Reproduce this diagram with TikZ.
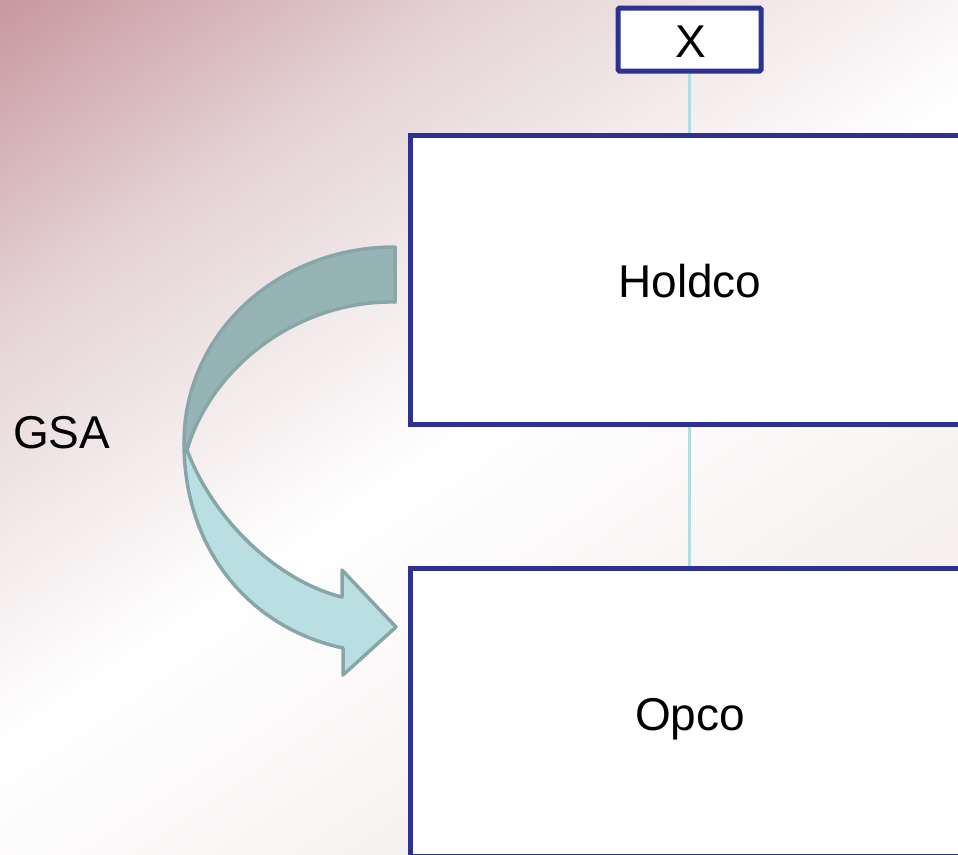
\documentclass[tikz,border=0pt]{standalone}
\usepackage{fontspec}
\setmainfont{Liberation Sans}
\definecolor{bgrose}{RGB}{200,152,157}
\definecolor{bgmid}{RGB}{229,212,214}
\definecolor{bgend}{RGB}{239,229,229}
\definecolor{navy}{RGB}{46,49,146}
\definecolor{conncol}{RGB}{178,222,224}
\definecolor{arrdark}{RGB}{150,179,181}
\definecolor{arrlight}{RGB}{186,223,226}
\definecolor{arredge}{RGB}{136,166,167}
\pgfdeclarehorizontalshading{bgshade}{100bp}{color(0bp)=(bgrose); color(25bp)=(bgrose); color(36bp)=(bgmid); color(50bp)=(white); color(75bp)=(bgend); color(100bp)=(bgend)}
\tikzset{
  entity/.style={draw=navy, line width=5pt, fill=white, inner sep=0pt},
  conn/.style={draw=conncol, line width=2.5pt},
  lbl/.style={font=\fontsize{46}{55}\selectfont, inner sep=0pt, anchor=base},
  gsaband/.style={draw=arredge, line width=3.5pt, line join=round},
}
\begin{document}
\begin{tikzpicture}[x=1pt,y=-1pt]
\useasboundingbox (0,0) rectangle (958,854);
\clip (0,0) rectangle (958,854);
\begin{scope}[transform canvas={rotate=-56}]
  \shade[shading=bgshade] (0,-830) rectangle (1243,830);
\end{scope}

% boxes
\node[entity, minimum width=143pt, minimum height=63pt, rounded corners=1.5pt] (xbox) at (689.5,39.5) {};
\node[entity, minimum width=600pt, minimum height=288.5pt] (hold) at (710,279.75) {};
\node[entity, minimum width=600pt, minimum height=288pt] (opco) at (710,712) {};

% connectors
\draw[conn] (xbox.south) -- (xbox.south |- hold.north);
\draw[conn] (xbox.south |- hold.south) -- (xbox.south |- opco.north);

% labels
\node[lbl] (xlbl) at (691,57) {X};
\node[lbl] (holdlbl) at (690,297) {Holdco};
\node[lbl] (opcolbl) at (690,730) {Opco};
\node[lbl, anchor=base west] (gsa) at (13,448) {GSA};

% curved GSA arrow
\path[gsaband, fill=arrdark]
  (184,443) .. controls (184,333) and (278,247) .. (395,247)
  -- (395,302) .. controls (300,300) and (212,365) .. (187,450) -- cycle;
\path[gsaband, fill=arrlight]
  (184,443) .. controls (184,550) and (250,628) .. (343,648)
  -- (343,675) -- (396,627) -- (342,570) -- (342,597)
  .. controls (280,582) and (214,522) .. (187,450) -- cycle;
\end{tikzpicture}
\end{document}
